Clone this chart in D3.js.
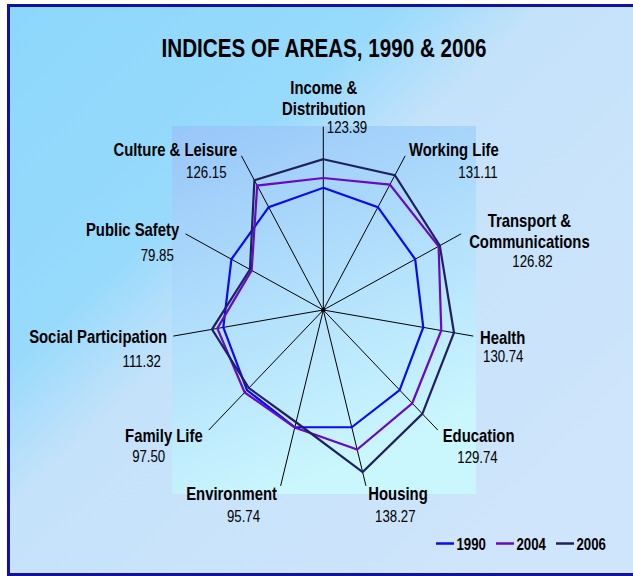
<!DOCTYPE html>
<html>
<head>
<meta charset="utf-8">
<script src="https://cdnjs.cloudflare.com/ajax/libs/d3/7.8.5/d3.min.js"></script>
<style>
body { margin: 0; background: #fff; }
text { font-family: "Liberation Sans", Arial, sans-serif; fill: #000; }
</style>
</head>
<body>
<div id="chart"></div>
<script>
// Data
var categories = ["Income &\nDistribution", "Working Life", "Transport &\nCommunications", "Health",
    "Education", "Housing", "Environment", "Family Life", "Social Participation", "Public Safety",
    "Culture & Leisure"];
var years = ["1990", "2004", "2006"];
var values1990 = [100, 100, 100, 100, 100, 100, 100, 100, 100, 100, 100];
var values2004 = [108, 122, 125.5, 118, 116.5, 119, 100.2, 103, 106, 78, 121];
var values2006 = [123.39, 131.11, 126.82, 130.74, 129.74, 138.27, 95.74, 97.50, 111.32, 79.85, 126.15];
var maxValue = 150;

// Canvas
var width = 633;
var height = 576;
var squeeze = 0.826; // the source picture is narrowed horizontally, text included

var svg = d3.select("#chart").append("svg")
    .attr("width", width)
    .attr("height", height);

var defs = svg.append("defs");

var bgGrad = defs.append("linearGradient")
    .attr("id", "bgGrad")
    .attr("gradientUnits", "userSpaceOnUse")
    .attr("x1", 0).attr("y1", 0)
    .attr("x2", 516).attr("y2", 552);
bgGrad.append("stop").attr("offset", 0).attr("stop-color", "#8cd7fc");
bgGrad.append("stop").attr("offset", 0.36).attr("stop-color", "#97dafc");
bgGrad.append("stop").attr("offset", 0.5).attr("stop-color", "#c4e2fa");
bgGrad.append("stop").attr("offset", 1).attr("stop-color", "#cfe5fb");

var plotGrad = defs.append("linearGradient")
    .attr("id", "plotGrad")
    .attr("x1", 0).attr("y1", 0)
    .attr("x2", 0.35).attr("y2", 1);
plotGrad.append("stop").attr("offset", 0).attr("stop-color", "#97c6f9");
plotGrad.append("stop").attr("offset", 1).attr("stop-color", "#caf6fe");

// Frame
svg.append("rect")
    .attr("x", 8.5)
    .attr("y", 5.5)
    .attr("width", 640)
    .attr("height", 569)
    .style("fill", "url(#bgGrad)")
    .style("stroke", "#12129c")
    .style("stroke-width", 3);

svg.append("rect")
    .attr("x", 172)
    .attr("y", 126)
    .attr("width", 304)
    .attr("height", 368)
    .style("fill", "url(#plotGrad)");

// narrowed text helper
function squeezedText(x, y, anchor) {
    return svg.append("g")
        .attr("transform", "translate(" + x + "," + y + ") scale(" + squeeze + ",1)")
        .append("text")
        .attr("text-anchor", anchor);
}

squeezedText(324, 57, "middle")
    .style("font-size", "25px")
    .style("font-weight", "bold")
    .text("INDICES OF AREAS, 1990 & 2006");

// Radar scales
var cx = 323.3;
var cy = 310;
var rx = d3.scaleLinear().domain([0, maxValue]).range([0, 151.5]);
var ry = d3.scaleLinear().domain([0, maxValue]).range([0, 183.3]);
var angle = d3.scaleLinear().domain([0, categories.length]).range([0, 2 * Math.PI]);

function point(i, v) {
    return [cx + rx(v) * Math.sin(angle(i)), cy - ry(v) * Math.cos(angle(i))];
}

// Spokes
categories.forEach(function(c, i) {
    var end = point(i, maxValue);
    svg.append("line")
        .attr("x1", cx).attr("y1", cy)
        .attr("x2", end[0]).attr("y2", end[1])
        .style("stroke", "#000")
        .style("stroke-width", 1);
});

svg.append("circle")
    .attr("cx", cx)
    .attr("cy", cy)
    .attr("r", 2.2)
    .style("fill", "#000");

// Series
var series = [values1990, values2004, values2006];
var colors = ["#0a0af5", "#6a08c8", "#20205f"];

var radarLine = d3.line()
    .x(function(d, i) { return point(i, d)[0]; })
    .y(function(d, i) { return point(i, d)[1]; })
    .curve(d3.curveLinearClosed);

series.forEach(function(s, k) {
    svg.append("path")
        .attr("d", radarLine(s))
        .style("fill", "none")
        .style("stroke", colors[k])
        .style("stroke-width", 2.2)
        .style("stroke-linejoin", "miter");
});

// Category labels: anchor, name dx/dy, value dx/dy (from spoke end)
var labelLayout = [
    ["middle", 0.5, -11.7, 23.7, 6],
    ["start", 3.8, 0.2, 72.8, 21.9],
    ["middle", 68.3, 14.4, 71.4, 32.8],
    ["start", 6.7, 7.9, 30, 25.6],
    ["start", 4.9, 11.7, 39.7, 32.7],
    ["start", 2.3, 14.1, 29.3, 36.4],
    ["end", -3.6, 14.1, -37.1, 36.1],
    ["end", -6.1, 11.7, -60.1, 31.7],
    ["end", -6.3, 7.2, -31.6, 30.6],
    ["end", -6.2, 2.1, -28.2, 26.8],
    ["end", -4.1, 0.2, -35.1, 22.5]
];
var lineHeight = 21.5;

categories.forEach(function(c, i) {
    var end = point(i, maxValue);
    var lay = labelLayout[i];
    var lines = c.split("\n");

    var name = squeezedText(end[0] + lay[1], end[1] + lay[2], lay[0])
        .style("font-size", "18px")
        .style("font-weight", "bold");
    lines.forEach(function(l, j) {
        name.append("tspan")
            .attr("x", 0)
            .attr("y", (j - lines.length + 1) * lineHeight)
            .text(l);
    });

    squeezedText(end[0] + lay[3], end[1] + lay[4], "middle")
        .style("font-size", "16px")
        .text(values2006[i].toFixed(2));
});

// Legend
var legendX = d3.scaleLinear().domain([0, 1]).range([436, 496]);

years.forEach(function(y, k) {
    var x0 = legendX(k);
    svg.append("line")
        .attr("x1", x0).attr("y1", 543.5)
        .attr("x2", x0 + 18).attr("y2", 543.5)
        .style("stroke", colors[k])
        .style("stroke-width", 2.5);
    squeezedText(x0 + 20.5, 550, "start")
        .style("font-size", "16px")
        .style("font-weight", "bold")
        .text(y);
});
</script>
</body>
</html>
